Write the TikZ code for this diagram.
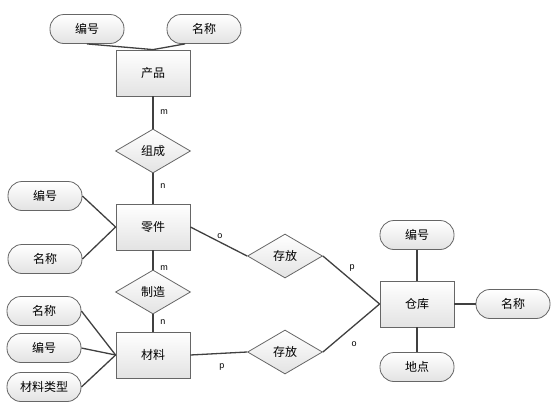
\documentclass[tikz,border=0pt]{standalone}
\usepackage{fontspec}
\setmainfont{Noto Sans CJK SC}
\newfontfamily\lbl{Liberation Sans}
\usetikzlibrary{shapes.geometric}
\tikzset{
  entity/.style={draw=gray!80!black, line width=0.8pt, top color=white, bottom color=gray!22, minimum width=74pt, minimum height=46pt, inner sep=0pt, font=\fontsize{12}{14}\selectfont},
  attr/.style={draw=gray!80!black, line width=0.8pt, rounded corners=14pt, top color=white, bottom color=gray!22, minimum width=74pt, minimum height=29pt, inner sep=0pt, font=\fontsize{12}{14}\selectfont},
  rel/.style={diamond, draw=gray!80!black, line width=0.8pt, top color=white, bottom color=gray!22, minimum width=75pt, minimum height=44pt, inner sep=0pt, font=\fontsize{12}{14}\selectfont},
  conn/.style={draw=black!75, line width=1.3pt},
  card/.style={font=\lbl\fontsize{9}{10}\selectfont, inner sep=0pt}
}
\begin{document}
\begin{tikzpicture}[x=1pt,y=-1pt]
\useasboundingbox (0,0) rectangle (560,413);
% entities
\node[entity] (prod) at (153,73) {产品};
\node[entity] (part) at (153,227) {零件};
\node[entity] (mat) at (153,355) {材料};
\node[entity] (wh) at (417,304) {仓库};
% relationships
\node[rel] (zc) at (153,151) {组成};
\node[rel] (zz) at (153,292) {制造};
\node[rel] (cf1) at (285,256) {存放};
\node[rel] (cf2) at (285,352) {存放};
% attributes
\node[attr] (pa1) at (87,29) {编号};
\node[attr] (pa2) at (204,29) {名称};
\node[attr] (qa1) at (45,196) {编号};
\node[attr] (qa2) at (45,259) {名称};
\node[attr] (ma1) at (44,311) {名称};
\node[attr] (ma2) at (44,348) {编号};
\node[attr] (ma3) at (44,387) {材料类型};
\node[attr] (wa1) at (417,235) {编号};
\node[attr] (wa2) at (513,304) {名称};
\node[attr] (wa3) at (417,367) {地点};
% connectors
\draw[conn] (pa1.south) -- (prod.north);
\draw[conn] ([xshift=-19pt]pa2.south) -- (prod.north);
\draw[conn] (prod.south) -- (zc.north);
\draw[conn] (zc.south) -- (part.north);
\draw[conn] (qa1.east) -- (part.west);
\draw[conn] (qa2.east) -- (part.west);
\draw[conn] (part.south) -- (zz.north);
\draw[conn] (zz.south) -- (mat.north);
\draw[conn] (ma1.east) -- (mat.west);
\draw[conn] (ma2.east) -- (mat.west);
\draw[conn] (ma3.east) -- (mat.west);
\draw[conn] (part.east) -- (cf1.west);
\draw[conn] (cf1.east) -- (wh.west);
\draw[conn] (mat.east) -- (cf2.west);
\draw[conn] (cf2.east) -- (wh.west);
\draw[conn] (wa1.south) -- (wh.north);
\draw[conn] (wh.south) -- (wa3.north);
\draw[conn] (wh.east) -- (wa2.west);
% cardinalities
\node[card] (c1) at (164,112) {m};
\node[card] (c2) at (163,186) {n};
\node[card] (c3) at (164,268) {m};
\node[card] (c4) at (163,322) {n};
\node[card] (c5) at (220,236) {o};
\node[card] (c6) at (352,268) {p};
\node[card] (c7) at (222,367) {p};
\node[card] (c8) at (354,344) {o};
\end{tikzpicture}
\end{document}
